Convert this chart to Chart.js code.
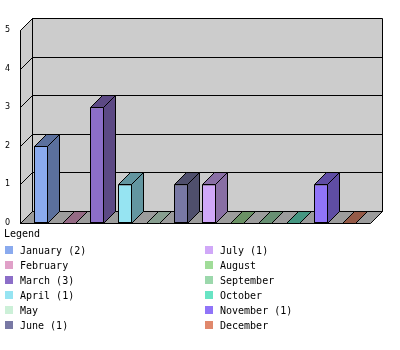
<!DOCTYPE html>
<html>
<head>
<meta charset="utf-8">
<script src="https://cdn.jsdelivr.net/npm/chart.js@4"></script>
<style>
  html, body { margin: 0; padding: 0; background: #fff; }
</style>
</head>
<body>
<canvas id="monthChart" width="400" height="350"></canvas>
<script>
const months = ['January', 'February', 'March', 'April', 'May', 'June',
                'July', 'August', 'September', 'October', 'November', 'December'];
const counts = [2, 0, 3, 1, 0, 1, 1, 0, 0, 0, 1, 0];
const colors = ['#8aaaee', '#e0a0c8', '#8c6ec8', '#96e4f2', '#ccf0d8', '#7878a4',
                '#d0a8f8', '#a0dc98', '#9cd8ac', '#68e4c4', '#9074f8', '#e0886c'];
const yMax = 5;

const DEPTH = 12;   // 3d offset, px
const MARGIN = 7;   // floor overhang beyond the category band

function shade(hex, f) {
    const n = parseInt(hex.slice(1), 16);
    const r = Math.round(((n >> 16) & 255) * f);
    const g = Math.round(((n >> 8) & 255) * f);
    const b = Math.round((n & 255) * f);
    return 'rgb(' + r + ',' + g + ',' + b + ')';
}

function poly(ctx, pts, fill) {
    ctx.beginPath();
    ctx.moveTo(pts[0][0], pts[0][1]);
    for (let i = 1; i < pts.length; i++) ctx.lineTo(pts[i][0], pts[i][1]);
    ctx.closePath();
    if (fill) { ctx.fillStyle = fill; ctx.fill(); }
    ctx.stroke();
}

function line(ctx, x1, y1, x2, y2) {
    ctx.beginPath();
    ctx.moveTo(x1, y1);
    ctx.lineTo(x2, y2);
    ctx.stroke();
}

// back panel, left wall, floor and grid
const box3d = {
    id: 'box3d',
    beforeDatasetsDraw(chart) {
        const ctx = chart.ctx;
        const {left, right, top, bottom} = chart.chartArea;
        const ys = chart.scales.y;
        const x0 = Math.round(left - MARGIN) + 0.5;
        const x1 = Math.round(right + MARGIN) + 0.5;
        const t = Math.round(top) + 0.5, b = Math.round(bottom) + 0.5;
        const D = DEPTH;
        ctx.save();
        ctx.strokeStyle = '#000';
        ctx.lineWidth = 1;
        ctx.fillStyle = '#cccccc';
        ctx.fillRect(x0 + D, t - D, x1 - x0, b - t);
        poly(ctx, [[x0, t], [x0 + D, t - D], [x0 + D, b - D], [x0, b]], '#cccccc');
        poly(ctx, [[x0, b], [x0 + D, b - D], [x1 + D, b - D], [x1, b]], '#9c9c9c');
        for (let v = 0; v <= yMax; v++) {
            const yy = Math.round(ys.getPixelForValue(v)) + 0.5;
            line(ctx, x0, yy, x0 + D, yy - D);
            line(ctx, x0 + D, yy - D, x1 + D, yy - D);
        }
        line(ctx, x0, t, x0, b);
        line(ctx, x0 + D, t - D, x0 + D, b - D);
        line(ctx, x1 + D, t - D, x1 + D, b - D);
        ctx.restore();
    },
    afterDatasetsDraw(chart) {
        const ctx = chart.ctx;
        const D = DEPTH;
        const meta = chart.getDatasetMeta(0);
        ctx.save();
        ctx.strokeStyle = '#000';
        ctx.lineWidth = 1;
        meta.data.forEach((bar, i) => {
            const p = bar.getProps(['x', 'y', 'base', 'width'], true);
            const l = Math.round(p.x - p.width / 2) + 0.5;
            const r = Math.round(p.x + p.width / 2) - 0.5;
            const t = Math.round(p.y) + 0.5;
            const b = Math.round(p.base) + 0.5;
            const dark = shade(colors[i], 0.66);
            if (b - t > 1) {
                poly(ctx, [[r, t], [r + D, t - D], [r + D, b - D], [r, b]], dark);
            }
            poly(ctx, [[l, t], [l + D, t - D], [r + D, t - D], [r, t]], dark);
        });
        ctx.restore();
    }
};

// two-column legend under the plot
const sideLegend = {
    id: 'sideLegend',
    afterDraw(chart) {
        const ctx = chart.ctx;
        ctx.save();
        ctx.font = '10px "DejaVu Sans Mono"';
        ctx.textBaseline = 'alphabetic';
        ctx.textAlign = 'left';
        ctx.fillStyle = '#000';
        ctx.fillText('Legend', 4, 237);
        months.forEach((m, i) => {
            const col = Math.floor(i / 6), row = i % 6;
            const bx = 5 + col * 200, by = 246 + row * 15;
            ctx.fillStyle = colors[i];
            ctx.fillRect(bx, by, 8, 8);
            ctx.fillStyle = '#000';
            const label = counts[i] > 0 ? m + ' (' + counts[i] + ')' : m;
            ctx.fillText(label, bx + 15, by + 8);
        });
        ctx.restore();
    }
};

new Chart(document.getElementById('monthChart'), {
    type: 'bar',
    data: {
        labels: months,
        datasets: [{
            data: counts,
            backgroundColor: colors,
            borderColor: '#000',
            borderWidth: 1,
            borderSkipped: false,
            categoryPercentage: 1,
            barPercentage: 0.5
        }]
    },
    options: {
        responsive: false,
        animation: false,
        events: [],
        layout: { padding: { left: 5, right: 37, top: 30, bottom: 127 } },
        plugins: { legend: { display: false }, tooltip: { enabled: false } },
        scales: {
            x: { display: false },
            y: {
                min: 0,
                max: yMax,
                afterFit(s) { s.width = 22; },
                grid: { display: false },
                border: { display: false },
                ticks: {
                    stepSize: 1,
                    crossAlign: 'far',
                    color: '#000',
                    font: { family: 'DejaVu Sans', size: 8 }
                }
            }
        }
    },
    plugins: [box3d, sideLegend]
});
</script>
</body>
</html>
